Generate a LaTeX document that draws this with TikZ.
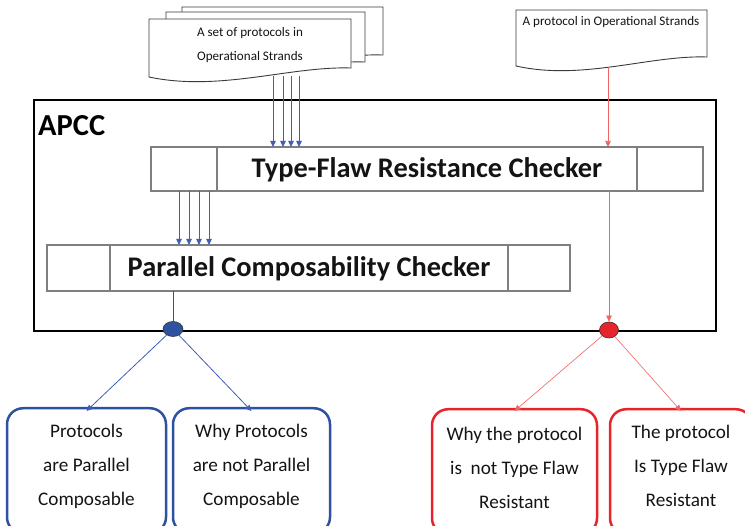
\documentclass[tikz,border=0pt]{standalone}
\usepackage{fontspec}
\setmainfont{Carlito}
\usetikzlibrary{arrows.meta,shapes.geometric}

\definecolor{hubblue}{HTML}{2F52A0}
\definecolor{arrowblue}{HTML}{3F5FB5}
\definecolor{hubred}{HTML}{E8242B}
\definecolor{arrowred}{HTML}{F26464}
\definecolor{framegray}{HTML}{7F7F7F}
\definecolor{sheetline}{HTML}{3A3A3A}
\definecolor{ink}{HTML}{141414}

% a sheet with a wavy lower edge: left, top, width, height at the right end
\newcommand\docsheet[4]{%
  \draw[sheetline, line width=0.9pt, fill=white]
    (#1,#2) -- ({#1+#3},#2) -- ({#1+#3},{#2+#4})
    .. controls ({#1+0.7*#3},{#2+#4-2}) and ({#1+0.35*#3},{#2+#4+24}) ..
    (#1,{#2+#4+9}) -- cycle;}

\begin{document}
\begin{tikzpicture}[x=1pt,y=-1pt,
  checker/.style={draw=framegray, line width=1.5pt, fill=white, inner sep=0pt, outer sep=0pt},
  divider/.style={framegray, line width=1.2pt},
  checkertext/.style={font=\bfseries\fontsize{28.4}{32}\selectfont, text=ink},
  doctext/.style={font=\fontsize{13.1}{24}\selectfont, text=ink, align=center},
  bluebox/.style={draw=hubblue, line width=2.5pt, rounded corners=16pt, inner sep=0pt, anchor=north},
  redbox/.style={draw=hubred, line width=2.5pt, rounded corners=16pt, inner sep=0pt, anchor=north},
  resulttext/.style={font=\fontsize{19.2}{34}\selectfont, text=ink, align=center},
  bluearrow/.style={arrowblue, line width=0.8pt, -{Triangle[width=5.5pt,length=6pt]}},
  redarrow/.style={arrowred, line width=0.6pt, -{Triangle[width=5.5pt,length=6pt]}},
  hub/.style={ellipse, draw=black!80, line width=0.6pt, inner sep=0pt, minimum width=20pt, minimum height=15pt}]
\useasboundingbox (0,0) rectangle (745,526);
\clip (0,0) rectangle (745,526);

% stacked input sheets
\docsheet{182}{7}{201}{48}
\docsheet{166}{12}{199}{50}
\docsheet{149}{19}{202}{49}
\node[doctext] (setlabel) at (250,45) {A set of protocols in\\Operational Strands};

% single input sheet
\docsheet{516}{10}{191}{47}
\node[doctext, font=\fontsize{13.1}{16}\selectfont] (onelabel) at (611,22) {A protocol in Operational Strands};

% tool frame
\node[draw=black, line width=2.6pt, inner sep=0pt, outer sep=0pt,
      minimum width=682pt, minimum height=231pt] (apcc) at (375,215.5) {};
\node[anchor=west, inner sep=0pt, font=\bfseries\fontsize{30.5}{34}\selectfont, text=black] (apcclabel) at (38,126) {APCC};

% type-flaw checker
\node[checker, minimum width=552pt, minimum height=44pt] (tf) at (427,169) {};
\draw[divider] (tf.north -| 217,0) -- (tf.south -| 217,0);
\draw[divider] (tf.north -| 637,0) -- (tf.south -| 637,0);
\node[checkertext] (tflabel) at (427,170) {Type-Flaw Resistance Checker};

% parallel composability checker
\node[checker, minimum width=523pt, minimum height=46pt] (pc) at (308.5,268) {};
\draw[divider] (pc.north -| 110,0) -- (pc.south -| 110,0);
\draw[divider] (pc.north -| 508,0) -- (pc.south -| 508,0);
\node[checkertext] (pclabel) at (309,269) {Parallel Composability Checker};

% junction points
\node[hub, fill=hubblue] (bluehub) at (173,329) {};
\node[hub, fill=hubred, minimum width=19pt, minimum height=16pt] (redhub) at (609,330) {};

% feeds from the stacked sheets
\foreach \x in {273,283,291,299} {
  \coordinate (feed\x) at (\x,76);
  \draw[bluearrow] (feed\x) -- (tf.north -| feed\x);
}
% feeds into the composability checker
\foreach \x in {179,189,199,209} {
  \draw[bluearrow] (tf.south -| \x,0) -- (pc.north -| \x,0);
}
\draw[hubblue, line width=0.7pt] (pc.south -| bluehub) -- (bluehub.north);

% single protocol path
\coordinate (onefeed) at (608,67);
\draw[redarrow] (onefeed) -- (tf.north -| onefeed);
\draw[redarrow] (tf.south -| redhub) -- (redhub.north);

% result boxes
\node[bluebox, minimum width=159pt, minimum height=125pt] (pcyes) at (86.5,407) {};
\node[bluebox, minimum width=157pt, minimum height=125pt] (pcno) at (251.5,407) {};
\node[redbox, minimum width=165pt, minimum height=125pt] (tfno) at (514.5,408) {};
\node[redbox, minimum width=142pt, minimum height=125pt] (tfyes) at (681,408) {};

\node[resulttext] (pcyestext) at (86.5,466) {Protocols\\are Parallel\\Composable};
\node[resulttext] (pcnotext) at (251.5,466) {Why Protocols\\are not Parallel\\Composable};
\node[resulttext] (tfnotext) at (514.5,467.5) {Why the protocol\\is\ \ not Type Flaw\\Resistant};
\node[resulttext] (tfyestext) at (681,466) {The protocol\\Is Type Flaw\\Resistant};

% outcome arrows
\draw[bluearrow] (bluehub) -- ([yshift=-4pt]pcyes.north);
\draw[bluearrow] (bluehub) -- ([yshift=-4pt]pcno.north);
\draw[redarrow] (redhub) -- ([yshift=-3pt]tfno.north);
\draw[redarrow] (redhub) -- ([yshift=-3pt]tfyes.north);
\end{tikzpicture}
\end{document}
